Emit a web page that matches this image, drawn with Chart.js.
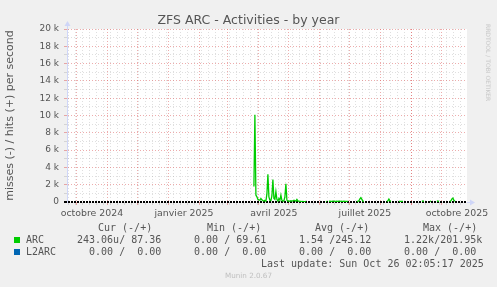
<!DOCTYPE html>
<html>
<head>
<meta charset="utf-8">
<title>ZFS ARC - Activities - by year</title>
<script src="https://cdn.jsdelivr.net/npm/chart.js@4.4.1/dist/chart.umd.min.js"></script>
<style>
  body { margin: 0; background: #f0f0f0; }
  #wrap { position: relative; width: 497px; height: 287px; overflow: hidden; }
  #myChart { position: absolute; left: 0; top: 0; }
  #title { position: absolute; left: 0; top: 12px; width: 497px; text-align: center; font-family: "DejaVu Sans", sans-serif; font-size: 12.5px; line-height: 15px; color: #555; }
  .txt { position: absolute; white-space: pre; font-family: "DejaVu Sans Mono", monospace; font-size: 10px; line-height: 12px; color: #555; }
  .sq { position: absolute; width: 6px; height: 6px; }
  #rrd { position: absolute; left: 485px; top: 24px; writing-mode: vertical-rl; font-family: "DejaVu Sans", sans-serif; font-size: 6px; color: #c8c8c8; }
  #munin { position: absolute; left: 0; width: 497px; top: 271px; text-align: center; font-family: "DejaVu Sans", sans-serif; font-size: 7.2px; color: #c0c0c0; }
</style>
</head>
<body>
<div id="wrap">
  <canvas id="myChart" width="497" height="287"></canvas>
  <div id="title">ZFS ARC - Activities - by year</div>
  <div id="rrd">RRDTOOL / TOBI OETIKER</div>
  <div id="legend"></div>
  <div id="munin">Munin 2.0.67</div>
</div>
<script>
// x values are days counted from 1 Oct 2024
const xStart = -9.9;   // 400 days before the last update
const xEnd = 390.1;    // Sun Oct 26 2025

const xLabels = ['octobre 2024', 'janvier 2025', 'avril 2025', 'juillet 2025', 'octobre 2025'];
const yTicks = [0, 1000, 2000, 3000, 4000, 5000, 6000, 7000, 8000, 9000, 10000,
                11000, 12000, 13000, 14000, 15000, 16000, 17000, 18000, 19000, 20000];

// ARC hits per second (null = no data)
const arcDays = [
  177, 178, 179, 180, 181, 182, 183, 184, 185, 186, 187, 188, 189, 190, 191, 192, 193, 194,
  195, 196, 197, 198, 199, 200, 201, 202, 203, 204, 205, 206, 207, 208, 209, 210, 211, 212,
  213, 214, 215, 216, 217, 218, 219, 220, 221, 222, 223, 224, 225, 226, 227, 228, 229, 230,
  249, 250, 251,
  252, 253, 254, 255, 256, 257, 258, 259, 260, 261, 262, 263, 264, 265, 266, 267, 268, 269, 270, 271, 272,
  280, 281, 282, 283, 284, 285, 286, 287, 288,
  310, 311, 312, 313, 314, 315,
  322, 323, 324, 325, 326, 327,
  345, 346, 347, 348,
  353, 354, 355,
  360, 361, 362, 363,
  373, 374, 375, 376, 377, 378
];
const arcHits = [
  1800, 10100, 800, 600, 300, 250, 200, 400, 250, 150, 120, 200, 100, 900, 3200, 600, 200, 150,
  700, 2600, 400, 300, 1200, 300, 100, 400, 200, 800, 200, 100, 150, 600, 2100, 200, 100, 120,
  80, 150, 100, 120, 200, 150, 100, 300, 120, 80, 60, 80, 50, 60, 50, 40, 60, null,
  50, 60, null,
  80, 90, 70, 80, 90, 100, 80, 70, 90, 80, 100, 90, 80, 70, 80, 90, 60, 80, 70, 60, null,
  60, 80, 150, 350, 500, 300, 100, 60, null,
  60, 150, 350, 150, 60, null,
  60, 70, 60, 70, 60, null,
  80, 120, 70, null,
  100, 60, null,
  70, 120, 60, null,
  60, 150, 350, 450, 200, 90
];

// legend table
const seriesNames = ['ARC', 'L2ARC'];
const seriesColors = ['#00cc00', '#0066b3'];
const curValues = ['243.06u/ 87.36', '  0.00 /  0.00'];
const minValues = ['  0.00 / 69.61', '  0.00 /  0.00'];
const avgValues = ['  1.54 /245.12', '  0.00 /  0.00'];
const maxValues = ['  1.22k/201.95k', '  0.00 /  0.00'];
const lastUpdate = 'Last update: Sun Oct 26 02:05:17 2025';

const base = Date.UTC(2024, 9, 1);
function dayOf(y, m, d) {
    return (Date.UTC(y, m, d) - base) / 86400000;
}

const monthStarts = [];
for (let m = 9; m <= 21; m++) monthStarts.push(dayOf(2024, m, 1));
const labelDays = [dayOf(2024, 9, 16), dayOf(2025, 0, 16), dayOf(2025, 3, 16), dayOf(2025, 6, 16), dayOf(2025, 9, 16)];
const mondays = [];
for (let d = dayOf(2024, 8, 23); d <= xEnd; d += 7) mondays.push(d);

const red = 'rgba(220,90,90,0.5)';
const gray = 'rgba(150,150,150,0.3)';

const plotBackground = {
    id: 'plotBackground',
    beforeDraw(chart) {
        const { ctx, chartArea: a } = chart;
        ctx.save();
        ctx.fillStyle = '#ffffff';
        ctx.fillRect(a.left, a.top, a.right - a.left, a.bottom - a.top);
        ctx.restore();
    }
};

const axisArrows = {
    id: 'axisArrows',
    afterDraw(chart) {
        const { ctx, chartArea: a } = chart;
        ctx.save();
        ctx.strokeStyle = '#cfd6f8';
        ctx.fillStyle = '#cfd6f8';
        ctx.lineWidth = 1;
        ctx.beginPath();
        ctx.moveTo(a.left + 0.5, a.top);
        ctx.lineTo(a.left + 0.5, a.top - 4);
        ctx.moveTo(a.right, a.bottom + 0.5);
        ctx.lineTo(a.right + 4, a.bottom + 0.5);
        ctx.stroke();
        ctx.beginPath();
        ctx.moveTo(a.left - 2.5, a.top - 3);
        ctx.lineTo(a.left + 3.5, a.top - 3);
        ctx.lineTo(a.left + 0.5, a.top - 8);
        ctx.fill();
        ctx.beginPath();
        ctx.moveTo(a.right + 3, a.bottom - 2.5);
        ctx.lineTo(a.right + 3, a.bottom + 3.5);
        ctx.lineTo(a.right + 8, a.bottom + 0.5);
        ctx.fill();
        ctx.restore();
    }
};

new Chart(document.getElementById('myChart'), {
    type: 'line',
    data: {
        datasets: [{
            label: 'ARC',
            data: arcDays.map((d, i) => ({ x: d, y: arcHits[i] })),
            borderColor: seriesColors[0],
            borderWidth: 1.3,
            pointRadius: 0,
            spanGaps: false,
            tension: 0
        }]
    },
    options: {
        responsive: false,
        animation: false,
        devicePixelRatio: 1,
        layout: { padding: { left: 0, right: 30, top: 29, bottom: 65 } },
        plugins: {
            legend: { display: false },
            tooltip: { enabled: false },
            title: { display: false }
        },
        scales: {
            x: {
                type: 'linear',
                min: xStart,
                max: xEnd,
                afterBuildTicks: (scale) => {
                    const t = [];
                    mondays.forEach((d) => t.push({ value: d }));
                    monthStarts.forEach((d) => t.push({ value: d }));
                    labelDays.forEach((d) => t.push({ value: d }));
                    scale.ticks = t.filter((k) => k.value >= xStart && k.value <= xEnd)
                        .sort((a, b) => a.value - b.value);
                },
                afterFit: (scale) => { scale.height = 20; },
                ticks: {
                    autoSkip: false,
                    maxRotation: 0,
                    minRotation: 0,
                    padding: 3,
                    color: '#555',
                    font: { family: 'DejaVu Sans', size: 9.4 },
                    callback: (v) => {
                        const i = labelDays.indexOf(v);
                        return i >= 0 ? xLabels[i] : '';
                    }
                },
                grid: {
                    tickLength: 3,
                    lineWidth: 1,
                    color: (c) => {
                        if (!c.tick) return gray;
                        const v = c.tick.value;
                        if (labelDays.includes(v)) return 'rgba(0,0,0,0)';
                        return monthStarts.includes(v) ? red : gray;
                    }
                },
                border: { display: false, dash: [1, 2] }
            },
            y: {
                min: 0,
                max: 20000,
                afterBuildTicks: (scale) => {
                    scale.ticks = yTicks.map((v) => ({ value: v }));
                },
                afterFit: (scale) => { scale.width = 67; },
                ticks: {
                    autoSkip: false,
                    padding: 5,
                    color: '#555',
                    font: { family: 'DejaVu Sans', size: 9 },
                    callback: (v) => {
                        if (v === 0) return '0';
                        return v % 2000 === 0 ? (v / 1000) + ' k' : '';
                    }
                },
                grid: {
                    tickLength: 3,
                    lineWidth: (c) => (c.tick && c.tick.value === 0 ? 2 : 1),
                    color: (c) => {
                        if (!c.tick) return gray;
                        if (c.tick.value === 0) return '#000';
                        return c.tick.value % 2000 === 0 ? red : gray;
                    }
                },
                border: {
                    color: '#cfd6f8',
                    dash: (c) => (c.tick && c.tick.value === 0 ? [2, 1] : [1, 2])
                },
                title: {
                    display: true,
                    text: 'misses (-) / hits (+) per second',
                    color: '#555',
                    font: { family: 'DejaVu Sans', size: 11 },
                    padding: { top: 4, bottom: 0 }
                }
            }
        }
    },
    plugins: [plotBackground, axisArrows]
});

// legend table under the plot
const legend = document.getElementById('legend');
function addText(text, x, y) {
    const d = document.createElement('div');
    d.className = 'txt';
    d.style.left = x + 'px';
    d.style.top = y + 'px';
    d.textContent = text;
    legend.appendChild(d);
}
addText('Cur (-/+)', 98, 222);
addText('Min (-/+)', 207, 222);
addText('Avg (-/+)', 315, 222);
addText('Max (-/+)', 423, 222);
seriesNames.forEach((name, i) => {
    const y = 234 + i * 12;
    const sq = document.createElement('div');
    sq.className = 'sq';
    sq.style.left = '14px';
    sq.style.top = (y + 3) + 'px';
    sq.style.background = seriesColors[i];
    legend.appendChild(sq);
    addText(name, 26, y);
    addText(curValues[i], 77, y);
    addText(minValues[i], 182, y);
    addText(avgValues[i], 287, y);
    addText(maxValues[i], 392, y);
});
addText(lastUpdate, 261, 258);
</script>
</body>
</html>
